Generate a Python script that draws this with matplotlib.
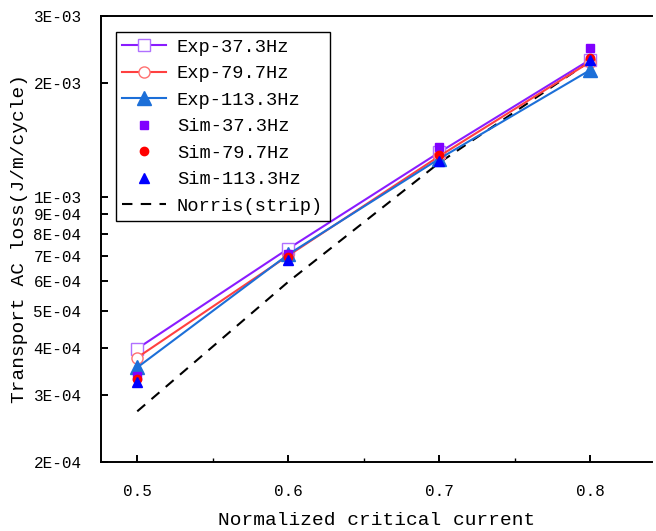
import matplotlib.pyplot as plt
from matplotlib.ticker import FixedLocator, FixedFormatter, MultipleLocator, NullLocator
import numpy as np

plt.rcParams.update({
    'font.family': ['Liberation Mono', 'DejaVu Sans'],
    'axes.linewidth': 1.4,
})

# data
current = [0.5, 0.6, 0.7, 0.8]
exp_37 = [3.98e-4, 7.30e-4, 1.31e-3, 2.30e-3]
exp_79 = [3.77e-4, 7.00e-4, 1.28e-3, 2.27e-3]
exp_113 = [3.55e-4, 7.05e-4, 1.26e-3, 2.16e-3]
sim_37 = [3.38e-4, 7.05e-4, 1.35e-3, 2.47e-3]
sim_79 = [3.30e-4, 6.95e-4, 1.29e-3, 2.32e-3]
sim_113 = [3.25e-4, 6.80e-4, 1.24e-3, 2.30e-3]
norris = [2.72e-4, 5.97e-4, 1.23e-3, 2.28e-3]

y_ticks = [2e-4, 3e-4, 4e-4, 5e-4, 6e-4, 7e-4, 8e-4, 9e-4, 1e-3, 2e-3, 3e-3]
y_labels = ['2E-04', '3E-04', '4E-04', '5E-04', '6E-04', '7E-04', '8E-04', '9E-04',
            '1E-03', '2E-03', '3E-03']

purple = '#8a1cff'
red = '#ff4040'
blue = '#1c6fd8'

fig = plt.figure(figsize=(6.56, 5.31), dpi=100)
ax = fig.add_axes([0.154, 0.130, 0.840, 0.840])

ax.plot(current, exp_37, '-', color=purple, lw=1.5, marker='s', ms=8,
        mfc='white', mec='#b070ff', label='Exp-37.3Hz', zorder=3)
ax.plot(current, exp_79, '-', color=red, lw=1.5, marker='o', ms=8,
        mfc='white', mec='#ff7070', label='Exp-79.7Hz', zorder=3)
ax.plot(current, exp_113, '-', color=blue, lw=1.5, marker='^', ms=10,
        mfc=blue, mec=blue, label='Exp-113.3Hz', zorder=3)
ax.plot(current, sim_37, 's', color='#8000ff', ms=6, label='Sim-37.3Hz', zorder=4)
ax.plot(current, sim_79, 'o', color='#ff0000', ms=6, label='Sim-79.7Hz', zorder=4)
ax.plot(current, sim_113, '^', color='#0000ff', ms=7, label='Sim-113.3Hz', zorder=4)
ax.plot(current, norris, '--', color='black', lw=1.5, dashes=(5, 4),
        label='Norris(strip)', zorder=2)

ax.set_yscale('log')
ax.set_ylim(2e-4, 3e-3)
ax.set_xlim(0.476, 0.841)
ax.yaxis.set_major_locator(FixedLocator(y_ticks))
ax.yaxis.set_major_formatter(FixedFormatter(y_labels))
ax.yaxis.set_minor_locator(NullLocator())
ax.xaxis.set_major_locator(FixedLocator(current))
ax.xaxis.set_minor_locator(MultipleLocator(0.05))
ax.set_xticklabels(['0.5', '0.6', '0.7', '0.8'])

ax.tick_params(axis='both', which='major', direction='in', length=5, width=1.4,
               labelsize=11.5)
ax.tick_params(axis='y', which='major', pad=14)
ax.tick_params(axis='x', which='major', pad=16)
ax.tick_params(axis='x', which='minor', direction='in', length=3, width=1.0)
ax.tick_params(top=False, right=False)
ax.spines['right'].set_visible(False)

ax.set_xlabel('Normalized critical current', fontsize=14, labelpad=9)
ax.set_ylabel('Transport AC loss(J/m/cycle)', fontsize=14, labelpad=4)

leg = ax.legend(loc='upper left', bbox_to_anchor=(0.027, 0.964), fontsize=13.5,
                fancybox=False, edgecolor='black', framealpha=1,
                handlelength=2.3, handletextpad=0.6, labelspacing=0.5,
                borderpad=0.35, borderaxespad=0)
leg.get_frame().set_linewidth(1.0)

fig.savefig('out.png', dpi=100)
